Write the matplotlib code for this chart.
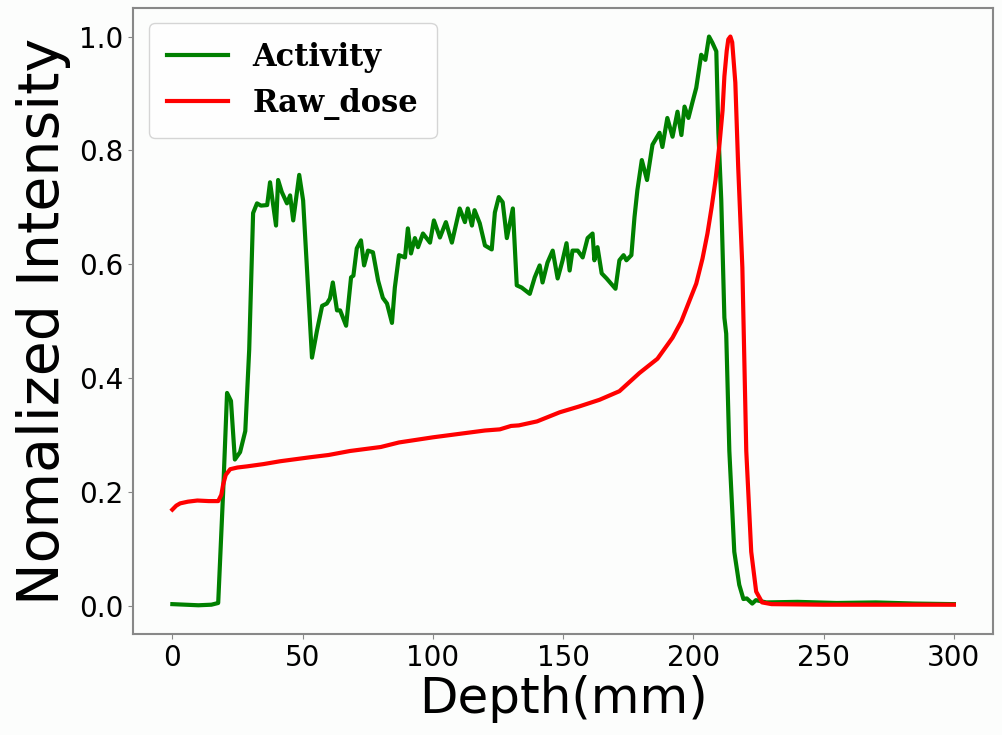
import numpy as np
import matplotlib
matplotlib.use('Agg')
import matplotlib.pyplot as plt

# Activity profile
act_x = [0, 5, 10, 15, 17.6, 19.5, 21, 22.5, 24, 26, 28, 29.5, 31, 32.5, 34, 36.4, 37.5,
         39.8, 40.6, 42, 44, 45.2, 46.4, 48.7, 50.2, 53.6, 55.5, 57.5, 59.3, 60.5, 61.6,
         63.2, 64.4, 66.7, 68.6, 69.5, 70.8, 72.4, 73.6, 75.1, 77, 79, 80.8, 82.4, 84.3,
         85.4, 87, 89.3, 90.4, 91.6, 93.1, 94.3, 96.2, 98.9, 100.4, 102.7, 105, 107.3,
         110.3, 112.3, 113.4, 115, 116, 118, 120, 122.6, 123.8, 125.3, 126.8, 128.4,
         130.7, 132.2, 134.1, 137.2, 139.1, 141, 142.1, 144, 146, 147.9, 149.8, 151.3,
         152.5, 153.6, 155.6, 157.5, 159.4, 161.3, 162, 163.2, 164.8, 166.7, 170.1,
         171.6, 173.2, 174.3, 176.2, 177.4, 178.5, 180.2, 182.2, 184.3, 187, 188.1, 190,
         192, 193.9, 195.4, 196.6, 198.1, 199.6, 201.1, 203, 204.6, 206, 207.3, 208.8,
         209.6, 210.7, 211.9, 212.6, 213.8, 215.7, 217.6, 219.2, 220.5, 222.6, 224,
         228, 240, 255, 270, 285, 300]
act_y = [0.003, 0.002, 0.001, 0.002, 0.005, 0.2, 0.374, 0.36, 0.257, 0.27, 0.307, 0.45,
         0.69, 0.707, 0.703, 0.704, 0.744, 0.668, 0.748, 0.727, 0.707, 0.721, 0.677,
         0.757, 0.712, 0.436, 0.483, 0.527, 0.531, 0.54, 0.568, 0.519, 0.519, 0.492,
         0.577, 0.58, 0.628, 0.642, 0.598, 0.624, 0.621, 0.571, 0.541, 0.531, 0.497,
         0.559, 0.616, 0.612, 0.663, 0.619, 0.646, 0.63, 0.654, 0.638, 0.677, 0.647,
         0.674, 0.638, 0.698, 0.674, 0.698, 0.668, 0.695, 0.672, 0.633, 0.626, 0.691,
         0.718, 0.709, 0.646, 0.698, 0.563, 0.559, 0.548, 0.577, 0.598, 0.568, 0.603,
         0.624, 0.575, 0.607, 0.637, 0.589, 0.624, 0.624, 0.612, 0.646, 0.654, 0.607,
         0.63, 0.584, 0.575, 0.557, 0.607, 0.616, 0.607, 0.616, 0.683, 0.73, 0.783,
         0.748, 0.81, 0.831, 0.806, 0.857, 0.824, 0.868, 0.827, 0.877, 0.857, 0.884,
         0.91, 0.968, 0.959, 1.0, 0.989, 0.974, 0.831, 0.713, 0.506, 0.478, 0.272,
         0.095, 0.037, 0.012, 0.013, 0.004, 0.01, 0.006, 0.007, 0.005, 0.006, 0.004,
         0.003]

# Raw dose profile
dose_x = [0, 1.5, 3, 6, 9.6, 14, 17.6, 18.8, 19.5, 20.5, 22.2, 25, 28.7, 35, 41.4, 52.9,
          60, 68.2, 80, 87, 100, 110, 120, 125.7, 130, 133, 140, 148.7, 156, 164, 171.6,
          179.3, 186.2, 192, 195.4, 198.5, 201.1, 203.5, 205.4, 207, 208.5, 210, 211.2,
          211.9, 212.8, 213.4, 214.2, 214.9, 216.1, 217.2, 218.8, 220.3, 222.2, 224.1,
          226.4, 230, 250, 275, 300]
dose_y = [0.169, 0.176, 0.18, 0.183, 0.185, 0.184, 0.184, 0.195, 0.213, 0.23, 0.24, 0.243,
          0.245, 0.249, 0.254, 0.261, 0.265, 0.272, 0.279, 0.287, 0.296, 0.302, 0.308,
          0.31, 0.316, 0.317, 0.324, 0.34, 0.35, 0.362, 0.377, 0.409, 0.434, 0.471, 0.5,
          0.536, 0.566, 0.61, 0.654, 0.7, 0.748, 0.81, 0.87, 0.93, 0.975, 0.995, 1.0,
          0.99, 0.919, 0.771, 0.594, 0.272, 0.095, 0.025, 0.006, 0.003, 0.002, 0.002,
          0.002]

fig = plt.figure(figsize=(10.02, 7.35), dpi=100, facecolor='#fcfdfc')
ax = fig.add_axes([0.133, 0.137, 0.858, 0.852])
ax.set_facecolor('#fcfdfc')

ax.plot(act_x, act_y, color='green', lw=3, label='Activity')
ax.plot(dose_x, dose_y, color='red', lw=3, label='Raw_dose')

ax.set_xlim(-15, 315)
ax.set_ylim(-0.05, 1.05)
ax.set_xticks([0, 50, 100, 150, 200, 250, 300])
ax.set_yticks([0.0, 0.2, 0.4, 0.6, 0.8, 1.0])
ax.tick_params(labelsize=20, color='#888888')
for s in ax.spines.values():
    s.set_color('#888888')
    s.set_linewidth(1.5)

ax.set_xlabel('Depth(mm)', fontsize=36, labelpad=2)
ax.set_ylabel('Nomalized Intensity', fontsize=41, labelpad=6)

ax.legend(loc='upper left', prop={'family': 'DejaVu Serif', 'weight': 'bold', 'size': 22},
          borderpad=0.6, handlelength=2.0)

fig.savefig('out.png', dpi=100, facecolor=fig.get_facecolor())
